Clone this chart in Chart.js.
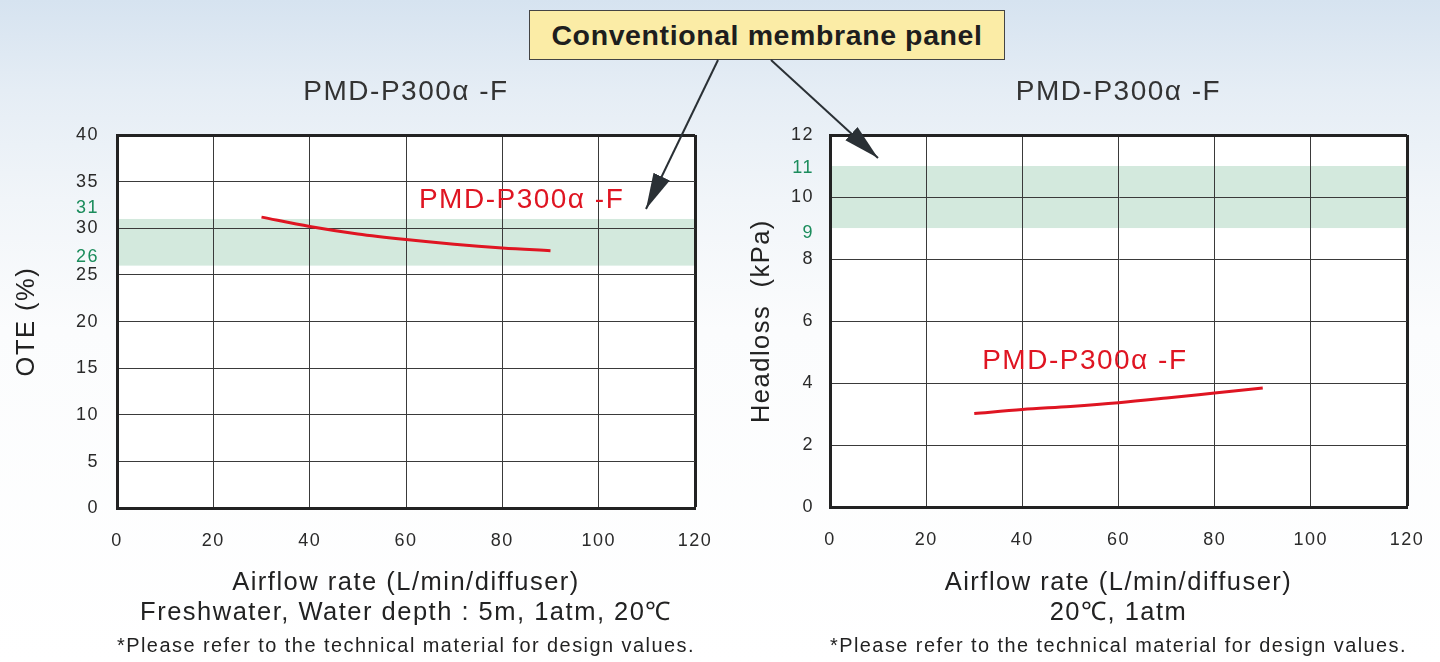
<!DOCTYPE html>
<html>
<head>
<meta charset="utf-8">
<script src="https://cdn.jsdelivr.net/npm/chart.js@4.4.1/dist/chart.umd.min.js"></script>
<style>
  html, body { margin: 0; padding: 0; }
  body {
    width: 1440px; height: 662px; position: relative; overflow: hidden;
    background: linear-gradient(to bottom, #d6e3f0 0px, #e5edf5 90px, #f1f5f9 200px, #fbfcfd 330px, #ffffff 662px);
    font-family: "Liberation Sans", Arial, sans-serif;
  }
  canvas { position: absolute; top: 0; }
  #left { left: 0; }
  #right { left: 720px; }
  .callout {
    position: absolute; left: 529px; top: 10px; width: 474px; height: 48px;
    background: #fbeca6; border: 1.5px solid #444;
    font-weight: bold; font-size: 28.5px; color: #1e1e1e; letter-spacing: 0.6px;
    display: flex; align-items: center; justify-content: center;
  }
  svg { position: absolute; left: 0; top: 0; pointer-events: none; }
</style>
</head>
<body>
<canvas id="left" width="720" height="662"></canvas>
<canvas id="right" width="720" height="662"></canvas>
<div class="callout">Conventional membrane panel</div>
<svg width="1440" height="662">
  <defs>
    <marker id="head" markerUnits="userSpaceOnUse" markerWidth="38" markerHeight="20" refX="36" refY="9" orient="auto">
      <path d="M0,0 L36,9 L0,18 Z" fill="#2a3035"/>
    </marker>
  </defs>
  <line x1="718" y1="60" x2="646" y2="209" stroke="#2a3035" stroke-width="2" marker-end="url(#head)"/>
  <line x1="771" y1="60" x2="878" y2="158" stroke="#2a3035" stroke-width="2" marker-end="url(#head)"/>
</svg>
<script>
// data
const airflow = [30, 40, 50, 60, 70, 80, 90];
const oteValues = [31.2, 30.2, 29.4, 28.8, 28.3, 27.9, 27.6];
const headlossValues = [3.02, 3.15, 3.25, 3.37, 3.52, 3.68, 3.84];
const xTicks = [0, 20, 40, 60, 80, 100, 120];
const oteTicks = [0, 5, 10, 15, 20, 25, 30, 35, 40];
const oteBand = [26, 31];
const headlossTicks = [0, 2, 4, 6, 8, 10, 12];
const headlossBand = [9, 11];

const FONT = '"Liberation Sans", Arial, sans-serif';
const RED = '#df1522';
const GREEN = '#1b8c5c';
const SPACING = '1.5px';
const seriesName = 'PMD-P300\u03b1 -F';
const footnote = '*Please refer to the technical material for design values.';

const bandPlugin = {
	id: 'band',
	beforeDraw(chart, args, o) {
		const { ctx, chartArea: a, scales: { y } } = chart;
		ctx.save();
		ctx.fillStyle = '#fff';
		ctx.fillRect(a.left, a.top, a.width, a.height);
		const top = y.getPixelForValue(o.range[1]);
		const bot = y.getPixelForValue(o.range[0]);
		ctx.fillStyle = '#d3e9dd';
		ctx.fillRect(a.left, top, a.width, bot - top);
		ctx.restore();
		ctx.letterSpacing = SPACING;
	},
	afterDatasetsDraw(chart, args, o) {
		const { ctx, chartArea: a, scales: { x, y } } = chart;
		ctx.save();
		ctx.letterSpacing = SPACING;
		// series label
		ctx.font = '28px ' + FONT;
		ctx.fillStyle = RED;
		ctx.textAlign = 'center';
		ctx.textBaseline = 'middle';
		ctx.fillText(seriesName, x.getPixelForValue(o.labelAt[0]), y.getPixelForValue(o.labelAt[1]));
		// green band limits beside the y axis
		ctx.font = '18px ' + FONT;
		ctx.fillStyle = GREEN;
		ctx.textAlign = 'right';
		o.range.forEach((v, i) => {
			ctx.fillText(String(v), a.left - o.tickPad, y.getPixelForValue(v) + o.shift[i]);
		});
		ctx.restore();
	},
};

const buildChart = (id, opt) => {
	const yMax = opt.ticks[opt.ticks.length - 1];
	return new Chart(document.getElementById(id), {
		type: 'line',
		data: {
			datasets: [
				{
					data: airflow.map((x, i) => ({ x, y: opt.values[i] })),
					borderColor: RED,
					borderWidth: 3,
					pointRadius: 0,
					cubicInterpolationMode: 'monotone',
					fill: false,
				},
			],
		},
		options: {
			responsive: false,
			animation: false,
			layout: { padding: { left: 0, right: opt.padRight, top: 0, bottom: 0 } },
			plugins: {
				legend: { display: false },
				tooltip: { enabled: false },
				title: {
					display: true,
					fullSize: false,
					text: seriesName,
					color: '#333',
					font: { family: FONT, size: 28, weight: 'normal', lineHeight: 1.2 },
					padding: { top: 75.2, bottom: 26.2 },
				},
				subtitle: {
					display: true,
					fullSize: false,
					position: 'bottom',
					text: footnote,
					color: '#222',
					font: { family: FONT, size: 20.5, lineHeight: 1.2 },
					padding: { top: 0, bottom: 3 },
				},
				band: { range: opt.band, labelAt: opt.labelAt, tickPad: opt.tickPad, shift: opt.bandShift },
			},
			scales: {
				x: {
					type: 'linear',
					min: 0,
					max: 120,
					afterBuildTicks: (s) => { s.ticks = xTicks.map((v) => ({ value: v })); },
					afterFit: (s) => {
						s.height = opt.xHeight;
						s.paddingLeft = 0;
						s.paddingRight = 0;
					},
					border: { color: '#222', width: 3 },
					grid: {
						drawTicks: false,
						color: (c) => (c.tick && c.tick.value === 120 ? '#222' : '#3a3a3a'),
						lineWidth: (c) => (c.tick && c.tick.value === 120 ? 3 : 1),
					},
					ticks: { padding: 22, color: '#2a2a2a', font: { family: FONT, size: 18 } },
					title: {
						display: true,
						text: opt.xTitle,
						color: '#222',
						font: { family: FONT, size: 25.5, lineHeight: 1.18 },
						padding: { top: 0, bottom: 6.4 },
					},
				},
				y: {
					min: 0,
					max: yMax,
					afterBuildTicks: (s) => { s.ticks = opt.ticks.map((v) => ({ value: v })); },
					afterFit: (s) => { s.width = opt.yWidth; },
					border: { color: '#222', width: 3 },
					grid: {
						drawTicks: false,
						color: (c) => (c.tick && c.tick.value === yMax ? '#222' : '#3a3a3a'),
						lineWidth: (c) => (c.tick && c.tick.value === yMax ? 3 : 1),
					},
					ticks: {
						autoSkip: false,
						padding: opt.tickPad,
						color: '#2a2a2a',
						font: { family: FONT, size: 18 },
					},
					title: {
						display: true,
						text: opt.yTitle,
						color: '#222',
						font: { family: FONT, size: 25.5, lineHeight: 1.2 },
						padding: { top: opt.yTitlePad, bottom: 0 },
					},
				},
			},
		},
		plugins: [bandPlugin],
	});
};

buildChart('left', {
	values: oteValues,
	ticks: oteTicks,
	band: oteBand,
	bandShift: [-9, -11],
	labelAt: [84, 33],
	padRight: 25,
	xHeight: 126.2,
	yWidth: 117,
	tickPad: 18,
	yTitlePad: 11.7,
	xTitle: ['Airflow rate (L/min/diffuser)', 'Freshwater, Water depth : 5m, 1atm, 20\u2103'],
	yTitle: 'OTE (%)',
});

buildChart('right', {
	values: headlossValues,
	ticks: headlossTicks,
	band: headlossBand,
	bandShift: [5, 2],
	labelAt: [53, 4.7],
	padRight: 33,
	xHeight: 127.2,
	yWidth: 110,
	tickPad: 16,
	yTitlePad: 26.7,
	xTitle: ['Airflow rate (L/min/diffuser)', '20\u2103, 1atm'],
	yTitle: 'Headloss  (kPa)',
});
</script>
</body>
</html>
